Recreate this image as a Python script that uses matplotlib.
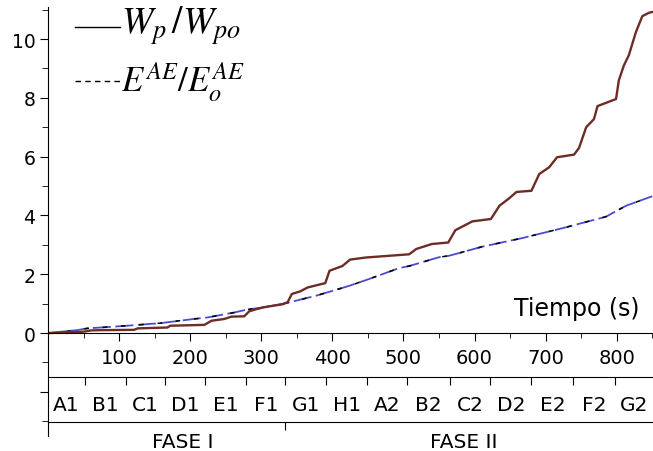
import numpy as np
import matplotlib
matplotlib.use("Agg")
import matplotlib.pyplot as plt
from matplotlib.lines import Line2D

plt.rcParams["font.family"] = ["DejaVu Sans"]
plt.rcParams["mathtext.fontset"] = "stix"

# Wp/Wpo curve (time in s, ratio)
wp_t = [0, 20, 45, 51, 60, 75, 121, 126, 168, 172, 220, 230, 248, 258, 276,
        283, 294, 304, 330, 337, 343, 355, 365, 390, 396, 414, 425, 447, 508,
        518, 540, 563, 573, 597, 623, 635, 649, 659, 680, 691, 705, 716, 740,
        747, 757, 768, 773, 799, 803, 810, 817, 827, 836, 846, 850]
wp_val = [0, 0.02, 0.04, 0.05, 0.09, 0.1, 0.11, 0.16, 0.19, 0.25, 0.28, 0.42,
          0.48, 0.56, 0.57, 0.74, 0.82, 0.88, 0.98, 1.05, 1.33, 1.42, 1.55,
          1.7, 2.12, 2.28, 2.5, 2.57, 2.68, 2.86, 3.03, 3.08, 3.5, 3.8, 3.88,
          4.33, 4.59, 4.8, 4.84, 5.41, 5.64, 5.98, 6.07, 6.3, 7.0, 7.28, 7.72,
          7.96, 8.6, 9.1, 9.45, 10.24, 10.78, 10.9, 10.92]

# E_AE/E_AE_o curve
ae_t = [0, 20, 41, 55, 93, 111, 159, 205, 224, 262, 280, 304, 335, 377, 409,
        424, 447, 494, 508, 550, 564, 578, 611, 667, 729, 785, 813, 846, 850]
ae_val = [0, 0.05, 0.1, 0.16, 0.22, 0.25, 0.34, 0.48, 0.53, 0.7, 0.8, 0.88,
          1.02, 1.27, 1.5, 1.61, 1.8, 2.21, 2.28, 2.58, 2.63, 2.72, 2.94, 3.23,
          3.6, 3.96, 4.33, 4.62, 4.65]

# test labels and their boundaries along time axis
test_edges = [0, 52, 110, 165, 221, 279, 334, 391, 449, 505, 566, 622, 680,
              739, 798, 851]
test_labels = ["A1", "B1", "C1", "D1", "E1", "F1", "G1", "H1", "A2", "B2",
               "C2", "D2", "E2", "F2", "G2"]
phase_edge = 334
phase_pos = [190, 585]
phase_labels = ["FASE I", "FASE II"]

W, H = 653, 452
fig = plt.figure(figsize=(W / 100, H / 100), dpi=100)
ax = fig.add_axes([48 / W, 15 / H, 605 / W, 429 / H])

ax.plot(ae_t, ae_val, color="#4b4bd0", lw=1.3, dashes=(10, 2.5))
ax.plot(ae_t, ae_val, color="black", lw=1.1, dashes=(3, 9))
ax.plot(wp_t, wp_val, color="#6e2c26", lw=1.7)

ax.set_xlim(0, 851)
ax.set_ylim(-3.5, 11.09)

for s in ["top", "right"]:
    ax.spines[s].set_visible(False)
ax.spines["bottom"].set_position(("data", 0))

ax.set_xticks(range(100, 900, 100))
ax.set_xticks(range(50, 900, 100), minor=True)
ax.tick_params(axis="x", which="major", direction="out", length=6,
               labelsize=14, pad=5)
ax.tick_params(axis="x", which="minor", direction="out", length=3.5)

ax.set_yticks(range(-2, 12, 2))
ax.set_yticklabels([""] + [str(v) for v in range(0, 12, 2)])
ax.set_yticks(range(-3, 12, 2), minor=True)
ax.tick_params(axis="y", which="major", direction="out", length=6,
               labelsize=13.5, pad=3)
ax.tick_params(axis="y", which="minor", direction="out", length=4)

# test sequence axis
sec1 = ax.secondary_xaxis((437 - 378) / 429)
sec1.set_xticks(test_edges[1:-1])
sec1.set_xticklabels([])
centers = [(a + b) / 2 for a, b in zip(test_edges[:-1], test_edges[1:])]
sec1.set_xticks(centers, minor=True)
sec1.set_xticklabels(test_labels, minor=True)
sec1.tick_params(which="major", direction="out", length=6)
sec1.tick_params(which="minor", length=0, labelsize=14.5, pad=13)

# phase axis
sec2 = ax.secondary_xaxis((437 - 423) / 429)
sec2.set_xticks([phase_edge])
sec2.set_xticklabels([])
sec2.set_xticks(phase_pos, minor=True)
sec2.set_xticklabels(phase_labels, minor=True)
sec2.tick_params(which="major", direction="out", length=6)
sec2.tick_params(which="minor", length=0, labelsize=14.5, pad=7)

ax.text(640 / W, 1 - 316 / H, "Tiempo (s)", transform=fig.transFigure,
        ha="right", va="baseline", fontsize=17)

# legend drawn by hand
fig.add_artist(Line2D([75 / W, 120 / W], [1 - 28 / H, 1 - 28 / H],
                      color="black", lw=1.0))
fig.add_artist(Line2D([75 / W, 120 / W], [1 - 82 / H, 1 - 82 / H],
                      color="black", lw=1.0, dashes=(4, 3)))
fig.text(121 / W, 1 - 34 / H, r"$W_p\,/W_{po}$", fontsize=27,
         va="baseline", ha="left")
fig.text(121 / W, 1 - 92 / H, r"$E^{AE}/E_o^{AE}$", fontsize=25,
         va="baseline", ha="left")

fig.savefig("out.png", dpi=100)
